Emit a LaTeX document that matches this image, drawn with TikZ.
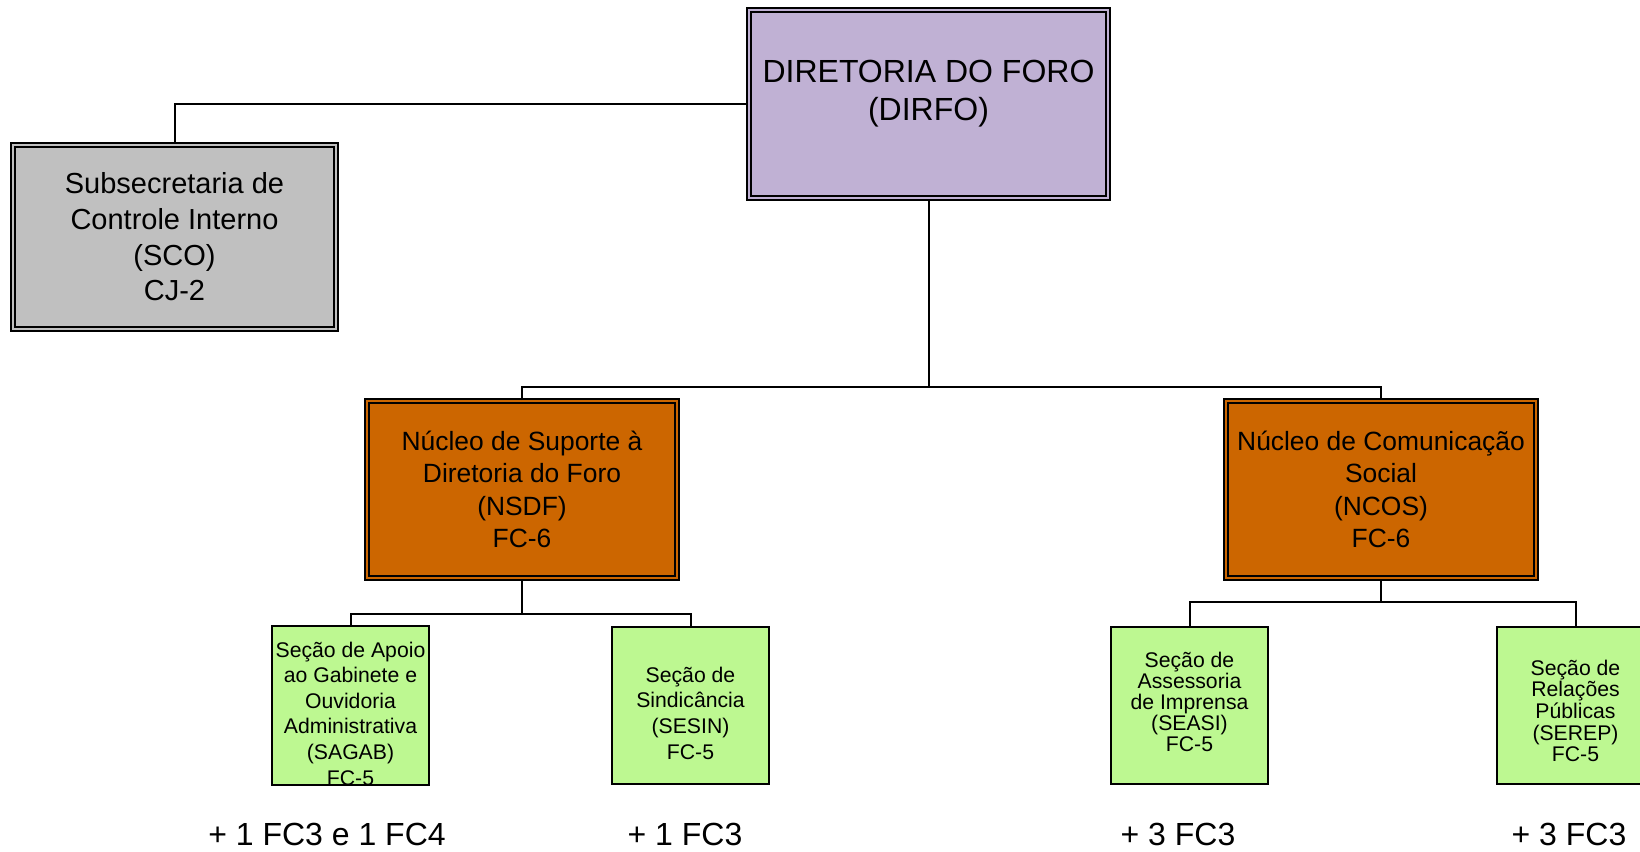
\documentclass[tikz,border=0pt]{standalone}
\usepackage{fontspec}
\setmainfont{Liberation Sans}
\usetikzlibrary{positioning}

\definecolor{dirfocolor}{RGB}{192,177,212}
\definecolor{scocolor}{RGB}{192,192,192}
\definecolor{nucleocolor}{RGB}{204,102,0}
\definecolor{secaocolor}{RGB}{189,248,145}

\begin{document}
\begin{tikzpicture}[x=0.5pt,y=-0.5pt,line width=1pt,
    double node/.style={rectangle,draw,line width=1pt,double distance=1pt,align=center,inner sep=0pt},
    top node/.style={double node,fill=dirfocolor,double=dirfocolor,minimum width=179.5pt,minimum height=94pt,font=\fontsize{16}{19.2}\selectfont},
    sco node/.style={double node,fill=scocolor,double=scocolor,minimum width=161.5pt,minimum height=92pt,font=\fontsize{14.5}{17.8}\selectfont},
    nucleo node/.style={double node,fill=nucleocolor,double=nucleocolor,minimum width=155pt,minimum height=88.5pt,font=\fontsize{13.2}{16.2}\selectfont},
    secao node/.style={rectangle,draw,line width=1pt,fill=secaocolor,align=center,inner sep=0pt,minimum width=78.5pt,minimum height=78.5pt,font=\fontsize{10.6}{12.8}\selectfont},
    note node/.style={anchor=base,font=\fontsize{16}{18}\selectfont}]

    \path[use as bounding box,clip] (0,0) rectangle (1640,852);

    % topo
    \node[top node] (dirfo) at (928.5,104) {DIRETORIA DO FORO\\(DIRFO)\\[-5.5pt]\mbox{}};
    \node[sco node] (sco) at (174.5,237) {Subsecretaria de\\Controle Interno\\(SCO)\\CJ-2};

    % nucleos
    \node[nucleo node] (nsdf) at (522,489.5) {Núcleo de Suporte à\\Diretoria do Foro\\(NSDF)\\FC-6};
    \node[nucleo node] (ncos) at (1381,489.5) {Núcleo de Comunicação\\Social\\(NCOS)\\FC-6};

    % secoes
    \node[secao node] (sagab) at (350.5,705.5) {\mbox{}\\[2.9pt]Seção de Apoio\\ao Gabinete e\\Ouvidoria\\Administrativa\\(SAGAB)\\FC-5};
    \node[secao node] (sesin) at (690.5,705.5) {\mbox{}\\[2.4pt]Seção de\\Sindicância\\(SESIN)\\FC-5};
    \node[secao node,font=\fontsize{10.6}{10.5}\selectfont] (seasi) at (1189.5,705.5) {Seção de\\Assessoria\\de Imprensa\\(SEASI)\\FC-5\\[-6.5pt]\mbox{}};
    \node[secao node,font=\fontsize{10.6}{10.8}\selectfont] (serep) at (1575.5,705.5) {\mbox{}\\[2.3pt]Seção de\\Relações\\Públicas\\(SEREP)\\FC-5};

    % funcoes comissionadas
    \node[note node] (fcsagab) at (327,845) {+ 1 FC3 e 1 FC4};
    \node[note node] (fcsesin) at (685,845) {+ 1 FC3};
    \node[note node] (fcseasi) at (1178,845) {+ 3 FC3};
    \node[note node] (fcserep) at (1569,845) {+ 3 FC3};

    \coordinate (busdirfo) at (928.5,387);
    \coordinate (busnsdf) at (522,614);
    \coordinate (busncos) at (1381,602);

    \draw (dirfo.west) -| (sco.north);
    \draw (dirfo.south) -- (busdirfo);
    \draw (nsdf.north) |- (busdirfo) -| (ncos.north);
    \draw (nsdf.south) -- (busnsdf);
    \draw (sagab.north) |- (busnsdf) -| (sesin.north);
    \draw (ncos.south) -- (busncos);
    \draw (seasi.north) |- (busncos) -| (serep.north);
\end{tikzpicture}
\end{document}
